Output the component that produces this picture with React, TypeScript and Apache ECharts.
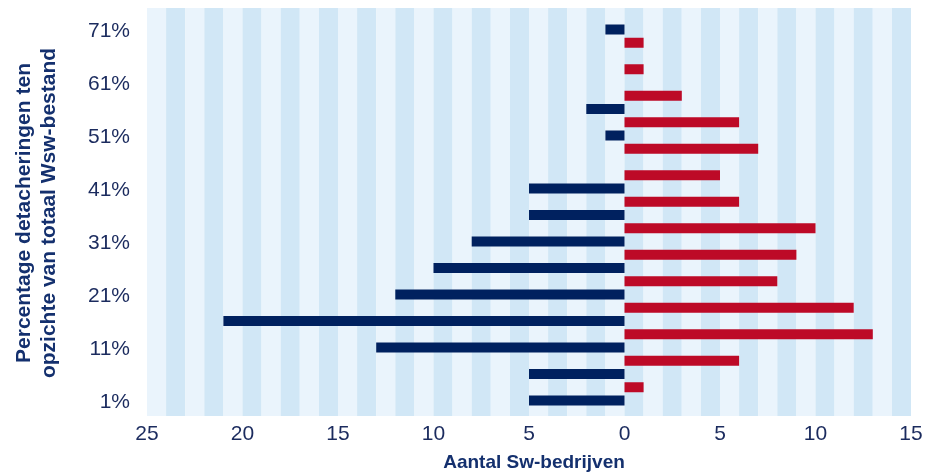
import React, { useEffect, useRef } from "react";
import * as echarts from "echarts";

// Percentage categories (steps of 2.5%), bottom to top
const percentCategories: string[] = [
  "1%", "3,5%", "6%", "8,5%", "11%", "13,5%", "16%", "18,5%", "21%", "23,5%",
  "26%", "28,5%", "31%", "33,5%", "36%", "38,5%", "41%", "43,5%", "46%", "48,5%",
  "51%", "53,5%", "56%", "58,5%", "61%", "63,5%", "66%", "68,5%", "71%",
];

// Dark (left) series: at 1%, 6%, 11%, ... 71%
const darkValues: number[] = [5, 5, 13, 21, 12, 10, 8, 5, 5, 0, 1, 2, 0, 0, 1];
// Red (right) series: halfway positions 3,5%, 8,5%, ... 68,5%
const redValues: number[] = [1, 6, 13, 12, 8, 9, 10, 6, 5, 7, 6, 3, 1, 1];

const xMin = -25;
const xMax = 15;

const NAVY = "#00215f";
const RED = "#bd0a27";
const TEXT = "#1b2b5e";
const TITLE = "#14306e";
const FONT = "'Liberation Sans', Arial, sans-serif";

export default function App() {
  const ref = useRef<HTMLDivElement>(null);

  useEffect(() => {
    if (!ref.current) return;
    const chart = echarts.init(ref.current, undefined, { renderer: "svg" });

    const darkData: (number | null)[] = percentCategories.map(() => null);
    const redData: (number | null)[] = percentCategories.map(() => null);
    darkValues.forEach((v, i) => {
      darkData[i * 2] = v === 0 ? null : -v;
    });
    redValues.forEach((v, i) => {
      redData[i * 2 + 1] = v === 0 ? null : v;
    });

    const gridLeft = 147;
    const gridRight = 20;

    chart.setOption({
      animation: false,
      textStyle: { fontFamily: FONT },
      grid: [
        { left: gridLeft, right: gridRight, top: 8, bottom: 59 },
        { left: gridLeft, right: gridRight, top: 29.5, bottom: 74.5 },
      ],
      xAxis: [
        {
          gridIndex: 0,
          type: "value",
          min: xMin,
          max: xMax,
          interval: 1,
          axisLine: { show: false },
          axisTick: { show: false },
          splitLine: { show: false },
          splitArea: {
            show: true,
            areaStyle: { color: ["#eaf4fc", "#d1e7f6"] },
          },
          axisLabel: {
            color: TEXT,
            fontSize: 21,
            fontFamily: FONT,
            margin: 6,
            formatter: (v: number) => (v % 5 === 0 ? String(Math.abs(v)) : ""),
          },
        },
        {
          gridIndex: 1,
          type: "value",
          min: xMin,
          max: xMax,
          show: false,
        },
      ],
      yAxis: [
        { gridIndex: 0, type: "value", min: 0, max: 1, show: false },
        {
          gridIndex: 1,
          type: "category",
          data: percentCategories,
          boundaryGap: false,
          axisLine: { show: false },
          axisTick: { show: false },
          splitLine: { show: false },
          axisLabel: {
            interval: 3,
            color: TEXT,
            fontSize: 21,
            fontFamily: FONT,
            margin: 17,
          },
        },
      ],
      series: [
        {
          type: "bar",
          xAxisIndex: 1,
          yAxisIndex: 1,
          stack: "s",
          data: darkData,
          barWidth: 10,
          itemStyle: { color: NAVY },
        },
        {
          type: "bar",
          xAxisIndex: 1,
          yAxisIndex: 1,
          stack: "s",
          data: redData,
          barWidth: 10,
          itemStyle: { color: RED },
        },
      ],
      graphic: [
        {
          type: "text",
          x: 22,
          y: 213,
          rotation: Math.PI / 2,
          style: {
            text: "Percentage detacheringen ten",
            fill: TITLE,
            font: `bold 21px ${FONT}`,
            textAlign: "center",
            textVerticalAlign: "middle",
          },
        },
        {
          type: "text",
          x: 47,
          y: 213,
          rotation: Math.PI / 2,
          style: {
            text: "opzichte van totaal Wsw-bestand",
            fill: TITLE,
            font: `bold 21px ${FONT}`,
            textAlign: "center",
            textVerticalAlign: "middle",
          },
        },
        {
          type: "text",
          x: 534,
          y: 461,
          style: {
            text: "Aantal Sw-bedrijven",
            fill: TITLE,
            font: `bold 19px ${FONT}`,
            textAlign: "center",
            textVerticalAlign: "middle",
          },
        },
      ],
    });

    return () => chart.dispose();
  }, []);

  return (
    <div
      ref={ref}
      style={{ position: "fixed", left: 0, top: 0, width: 931, height: 475 }}
    />
  );
}
